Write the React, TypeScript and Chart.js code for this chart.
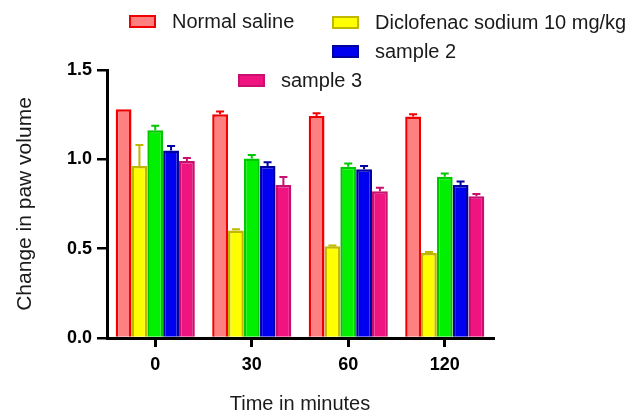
import React, { useEffect, useRef } from "react";
import { Chart, registerables } from "chart.js";

Chart.register(...registerables);

const categories = ["0", "30", "60", "120"];
const seriesNames = ["Normal saline", "Diclofenac sodium 10 mg/kg", "sample 1", "sample 2", "sample 3"];
const normalSaline = [1.28, 1.253, 1.243, 1.24];
const diclofenac = [0.962, 0.601, 0.513, 0.476];
const sample1 = [1.163, 1.004, 0.959, 0.903];
const sample2 = [1.05, 0.962, 0.944, 0.856];
const sample3 = [0.99, 0.856, 0.822, 0.794];
const errNormalSaline = [0, 0.015, 0.015, 0.013];
const errDiclofenac = [0.118, 0.008, 0.005, 0.005];
const errSample1 = [0.025, 0.02, 0.017, 0.018];
const errSample2 = [0.024, 0.022, 0.018, 0.02];
const errSample3 = [0.017, 0.045, 0.019, 0.012];
const yTicks = [0, 0.5, 1.0, 1.5];

const fills = ["#FF8080", "#FFFF00", "#00F000", "#0000F0", "#F01480"];
const borders = ["#F00000", "#C0B800", "#00C800", "#0000A0", "#C81070"];

// legend placement (index into series, x, y of box top-left); sample 1 has no legend entry in the reference
const legendSpots: [number, number, number][] = [
  [0, 129, 15],
  [1, 332, 16],
  [3, 332, 45],
  [4, 238, 74],
];

export default function App() {
  const ref = useRef<HTMLCanvasElement | null>(null);

  useEffect(() => {
    if (!ref.current) return;
    const values = [normalSaline, diclofenac, sample1, sample2, sample3];
    const errs = [errNormalSaline, errDiclofenac, errSample1, errSample2, errSample3];

    const errorBars = {
      id: "errorBars",
      afterDatasetsDraw(chart: any) {
        const ctx = chart.ctx;
        const yScale = chart.scales.y;
        ctx.save();
        values.forEach((vals, di) => {
          const meta = chart.getDatasetMeta(di);
          meta.data.forEach((bar: any, i: number) => {
            const e = errs[di][i];
            if (!e) return;
            const yTop = yScale.getPixelForValue(vals[i] + e);
            const yBase = yScale.getPixelForValue(vals[i]);
            ctx.strokeStyle = borders[di];
            ctx.lineWidth = 2;
            ctx.beginPath();
            ctx.moveTo(bar.x, yBase);
            ctx.lineTo(bar.x, yTop);
            ctx.moveTo(bar.x - 4, yTop);
            ctx.lineTo(bar.x + 4, yTop);
            ctx.stroke();
          });
        });
        ctx.restore();
      },
    };

    const customLegend = {
      id: "customLegend",
      afterDraw(chart: any) {
        const ctx = chart.ctx;
        ctx.save();
        legendSpots.forEach(([di, x, y]) => {
          ctx.fillStyle = borders[di];
          ctx.fillRect(x, y, 27, 13);
          ctx.fillStyle = fills[di];
          ctx.fillRect(x + 2, y + 2, 23, 9);
          ctx.fillStyle = "#1a1a1a";
          ctx.font = "20px Arial, 'Liberation Sans', sans-serif";
          ctx.textBaseline = "middle";
          ctx.textAlign = "left";
          ctx.fillText(seriesNames[di], x + 43, y + 7);
        });
        ctx.restore();
      },
    };

    const chart = new Chart(ref.current, {
      type: "bar",
      data: {
        labels: categories,
        datasets: values.map((v, i) => ({
          label: seriesNames[i],
          data: v,
          backgroundColor: fills[i],
          borderColor: borders[i],
          borderWidth: 2.5,
          categoryPercentage: 0.82,
          barPercentage: 1.0,
        })),
      },
      options: {
        animation: false,
        responsive: false,
        maintainAspectRatio: false,
        layout: { padding: { top: 70, right: 148, left: 0, bottom: 0 } },
        plugins: { legend: { display: false }, tooltip: { enabled: false } },
        scales: {
          x: {
            offset: true,
            grid: {
              offset: false,
              drawOnChartArea: false,
              drawTicks: true,
              tickLength: 9,
              color: "#000",
              lineWidth: 3,
            },
            border: { display: true, color: "#000", width: 3 },
            ticks: {
              color: "#000",
              font: { family: "Arial, 'Liberation Sans', sans-serif", size: 18, weight: "bold" },
              padding: 7,
            },
            title: {
              display: true,
              text: "Time in minutes",
              color: "#1a1a1a",
              font: { family: "Arial, 'Liberation Sans', sans-serif", size: 20 },
              padding: { top: 0, bottom: 1 },
            },
            afterFit(scale: any) {
              scale.height = 79;
            },
          },
          y: {
            min: 0,
            max: 1.5,
            afterBuildTicks(scale: any) {
              scale.ticks = yTicks.map((v) => ({ value: v }));
            },
            grid: {
              drawOnChartArea: false,
              drawTicks: true,
              tickLength: 10,
              color: "#000",
              lineWidth: 2.5,
            },
            border: { display: true, color: "#000", width: 3 },
            ticks: {
              color: "#000",
              font: { family: "Arial, 'Liberation Sans', sans-serif", size: 18, weight: "bold" },
              padding: 5,
              callback: (v: any) => Number(v).toFixed(1),
            },
            title: {
              display: true,
              text: "Change in paw volume",
              color: "#1a1a1a",
              font: { family: "Arial, 'Liberation Sans', sans-serif", size: 21 },
              padding: { top: 13, bottom: 0 },
            },
            afterFit(scale: any) {
              scale.width = 107;
            },
          },
        },
      },
      plugins: [errorBars, customLegend],
    });
    return () => chart.destroy();
  }, []);

  return (
    <div style={{ position: "fixed", left: 0, top: 0, width: 641, height: 417, background: "#fff" }}>
      <canvas ref={ref} width={641} height={417} style={{ display: "block", width: 641, height: 417 }} />
    </div>
  );
}
